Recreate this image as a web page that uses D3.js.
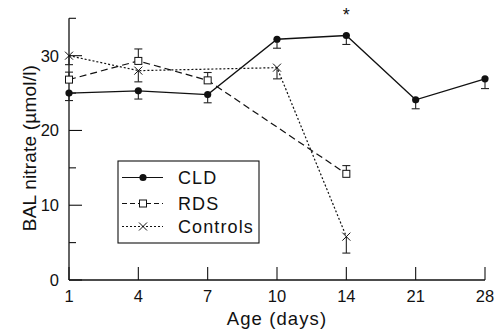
<!DOCTYPE html>
<html><head><meta charset="utf-8">
<script src="https://cdn.jsdelivr.net/npm/d3@7"></script>
<style>body{margin:0;background:#fff}svg{display:block}text{font-family:"Liberation Sans",Arial,sans-serif;fill:#111}</style>
</head><body><svg id="c" width="497" height="330"></svg>
<script>
const days = ["1","4","7","10","14","21","28"];
const yTicks = [0,5,10,15,20,25,30,35];
const yLabels = [0,10,20,30];
const cldDays = ["1","4","7","10","14","21","28"];
const cldVals = [25.0,25.3,24.8,32.2,32.7,24.1,26.9];
const cldErrLow = [24.0,24.2,23.7,31.0,31.5,22.9,25.6];
const rdsDays = ["1","4","7","14"];
const rdsVals = [26.8,29.3,26.7,14.2];
const rdsErrHigh = [27.8,30.9,27.75,15.3];
const ctlDays = ["1","4","10","14"];
const ctlVals = [30.0,28.0,28.4,5.8];
const ctlErrLow = [28.8,26.5,26.9,3.6];
const seriesNames = ["CLD","RDS","Controls"];

const svg = d3.select("#c");
const x = d3.scalePoint().domain(days).range([69,485]);
const y = d3.scaleLinear().domain([0,35]).range([280,18.3]);
const ink = "#111";

// axes
svg.append("line").attr("x1",69).attr("x2",69).attr("y1",y(35)).attr("y2",y(0)).attr("stroke",ink).attr("stroke-width",1.3);
svg.append("line").attr("x1",x("1")).attr("x2",x("28")).attr("y1",y(0)).attr("y2",y(0)).attr("stroke",ink).attr("stroke-width",1.3);
yTicks.forEach(t=>{
  const len = yLabels.includes(t)?13:7;
  svg.append("line").attr("x1",69).attr("x2",69+len).attr("y1",y(t)).attr("y2",y(t)).attr("stroke",ink).attr("stroke-width",1.1);
});
yLabels.forEach(t=>{
  svg.append("text").attr("x",59).attr("y",y(t)).attr("text-anchor","end").attr("dominant-baseline","central").attr("font-size",16.5).text(t);
});
days.forEach(d=>{
  svg.append("line").attr("x1",x(d)).attr("x2",x(d)).attr("y1",y(0)).attr("y2",y(0)-13).attr("stroke",ink).attr("stroke-width",1.1);
  svg.append("text").attr("x",x(d)).attr("y",296).attr("text-anchor","middle").attr("dominant-baseline","central").attr("font-size",16.5).text(d);
});
svg.append("text").attr("x",277).attr("y",325).attr("text-anchor","middle").attr("font-size",18.5).attr("letter-spacing",1.1).text("Age (days)");
svg.append("text").attr("transform","translate(29,148) rotate(-90)").attr("text-anchor","middle").attr("dominant-baseline","central").attr("font-size",19).attr("letter-spacing",0.2).text("BAL nitrate (µmol/l)");

const line = d3.line().x(d=>x(d[0])).y(d=>y(d[1]));
function errBars(ds, vals, ends){
  ds.forEach((d,i)=>{
    const g = svg.append("g").attr("stroke","#222").attr("stroke-width",1.1);
    g.append("line").attr("x1",x(d)).attr("x2",x(d)).attr("y1",y(vals[i])).attr("y2",y(ends[i]));
    g.append("line").attr("x1",x(d)-4).attr("x2",x(d)+4).attr("y1",y(ends[i])).attr("y2",y(ends[i]));
  });
}
errBars(cldDays,cldVals,cldErrLow);
errBars(rdsDays,rdsVals,rdsErrHigh);
errBars(ctlDays,ctlVals,ctlErrLow);

const styles = {
  CLD:{dash:null},
  RDS:{dash:"5,3"},
  Controls:{dash:"2,2"}
};
svg.append("path").datum(ctlDays.map((d,i)=>[d,ctlVals[i]])).attr("d",line).attr("fill","none").attr("stroke",ink).attr("stroke-width",1.2).attr("stroke-dasharray","2,2");
svg.append("path").datum(rdsDays.map((d,i)=>[d,rdsVals[i]])).attr("d",line).attr("fill","none").attr("stroke",ink).attr("stroke-width",1.2).attr("stroke-dasharray","7,4");
svg.append("path").datum(cldDays.map((d,i)=>[d,cldVals[i]])).attr("d",line).attr("fill","none").attr("stroke",ink).attr("stroke-width",1.3);

function marker(kind, cx, cy){
  if(kind==="CLD") svg.append("circle").attr("cx",cx).attr("cy",cy).attr("r",3.6).attr("fill",ink);
  else if(kind==="RDS") svg.append("rect").attr("x",cx-3.5).attr("y",cy-3.5).attr("width",7).attr("height",7).attr("fill","#fff").attr("stroke",ink).attr("stroke-width",1);
  else {
    svg.append("path").attr("d",`M${cx-4},${cy-4}L${cx+4},${cy+4}M${cx-4},${cy+4}L${cx+4},${cy-4}`).attr("stroke",ink).attr("stroke-width",1);
  }
}
ctlDays.forEach((d,i)=>marker("Controls",x(d),y(ctlVals[i])));
rdsDays.forEach((d,i)=>marker("RDS",x(d),y(rdsVals[i])));
cldDays.forEach((d,i)=>marker("CLD",x(d),y(cldVals[i])));

svg.append("text").attr("x",x("14")).attr("y",15).attr("text-anchor","middle").attr("dominant-baseline","central").attr("font-size",18).text("*");

// legend
svg.append("rect").attr("x",118).attr("y",161).attr("width",141).attr("height",82).attr("fill","#fff").attr("stroke",ink).attr("stroke-width",1.1);
const legY = [177.5,203.5,226.5];
seriesNames.forEach((n,i)=>{
  const l = svg.append("line").attr("x1",122).attr("x2",163).attr("y1",legY[i]).attr("y2",legY[i]).attr("stroke",ink).attr("stroke-width",1.2);
  if(styles[n].dash) l.attr("stroke-dasharray",styles[n].dash);
  marker(n,143,legY[i]);
  svg.append("text").attr("x",178).attr("y",legY[i]).attr("dominant-baseline","central").attr("font-size",18).attr("letter-spacing",1.1).text(n);
});
</script></body></html>
